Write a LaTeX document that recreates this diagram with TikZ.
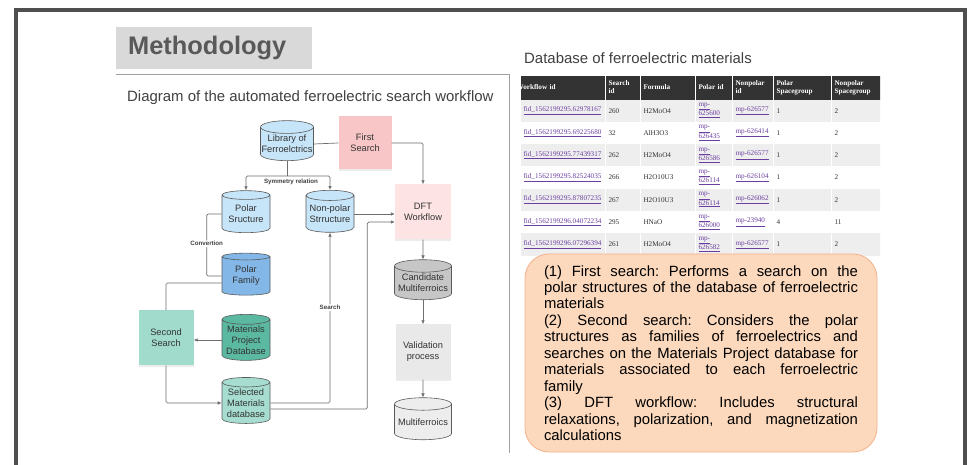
\documentclass[tikz,border=0pt]{standalone}
\usepackage{fontspec}
\setmainfont{Liberation Serif}
\setsansfont{Liberation Sans}
\usepackage{xcolor}
\usetikzlibrary{positioning,arrows.meta,shapes.geometric,calc,matrix,shadows}
\definecolor{framegray}{HTML}{4F4F4F}
\definecolor{panelgray}{HTML}{A0A0A0}
\definecolor{headgray}{HTML}{D9D9D9}
\definecolor{headtxt}{HTML}{595959}
\definecolor{txtdark}{HTML}{404040}
\definecolor{txt}{HTML}{333333}
\definecolor{conn}{HTML}{6E6E6E}
\definecolor{edge}{HTML}{5A5A5A}
\definecolor{lightblue}{HTML}{C7E5F8}
\definecolor{midblue}{HTML}{82B7E8}
\definecolor{pinkbox}{HTML}{F8C6C6}
\definecolor{pinklight}{HTML}{FDE3E3}
\definecolor{tealbox}{HTML}{A0DBCC}
\definecolor{tealdark}{HTML}{5BB9A2}
\definecolor{teallight}{HTML}{A6DDD0}
\definecolor{graymid}{HTML}{C6C6C6}
\definecolor{graylight}{HTML}{E9E9E9}
\definecolor{graylight2}{HTML}{EDEDED}
\definecolor{hdrdark}{HTML}{333333}
\definecolor{rowgray}{HTML}{EEEEEE}
\definecolor{linkc}{HTML}{6B3FA0}
\definecolor{notefill}{HTML}{FCD9BD}
\definecolor{noteedge}{HTML}{F4B18A}
\newcommand{\lnk}[1]{\textcolor{linkc}{\underline{#1}}}
\newcommand{\mpid}[1]{\lnk{mp-}\newline\lnk{#1}}
\newcommand{\two}[2]{#1\newline#2}
\tikzset{
  line/.style={-{Latex[length=4bp,width=3.6bp]}, line width=0.7bp, draw=conn, rounded corners=1.5bp},
  conn/.style={line width=0.7bp, draw=conn, rounded corners=1.5bp},
  every node/.style={anchor=center}
}

\begin{document}
\begin{tikzpicture}[
  x=1bp, y=-1bp,
  font=\sffamily,
  tag/.style={font=\sffamily\bfseries\fontsize{6.2}{7}\selectfont, text=black!75, inner sep=1bp},
  db/.style={cylinder, shape border rotate=90, aspect=0.25, draw=edge, line width=0.6bp, minimum width=48bp, minimum height=42bp, inner sep=0pt, align=center, text=txt, font=\sffamily\fontsize{9.3}{11}\selectfont},
  box/.style={minimum width=55bp, minimum height=55bp, inner sep=1bp, align=center, text=txt, font=\sffamily\fontsize{9.3}{11}\selectfont, drop shadow={shadow xshift=0bp, shadow yshift=-2bp, opacity=0.15}},
  cell/.style={anchor=center, align=left, inner xsep=3bp, inner ysep=0pt, minimum height=22.3bp, text=txt, font=\rmfamily\fontsize{7.2}{8}\selectfont},
  hcell/.style={fill=hdrdark, text=white, minimum height=24bp, font=\rmfamily\bfseries\fontsize{7.2}{8}\selectfont},
  note/.style={rounded corners=24bp, draw=noteedge, fill=notefill, line width=0.8bp, minimum width=352bp, minimum height=198bp, inner sep=0pt, font=\sffamily\fontsize{14.9}{16.5}\selectfont}
]
\useasboundingbox (0,0) rectangle (969,465);
\fill[white] (0,0) rectangle (969,465);
\draw[line width=4bp, draw=framegray] (16,470) -- (16,10.5) -- (965,10.5) -- (965,470);
\draw[line width=0.8bp, draw=panelgray] (116,74) -- (509,74) -- (509,453);

\node[fill=headgray, anchor=north west, minimum width=196bp, minimum height=42bp, inner xsep=12bp, text width=172bp, align=left, text=headtxt, font=\sffamily\bfseries\fontsize{25.5}{28}\selectfont] (method) at (116,27) {Methodology};
\node[anchor=base west, inner sep=0pt, text=txtdark, font=\sffamily\fontsize{15}{18}\selectfont] (diagtitle) at (127,101.5) {Diagram of the automated ferroelectric search workflow};
\node[anchor=base west, inner sep=0pt, text=txtdark, font=\sffamily\fontsize{15}{18}\selectfont] (dbtitle) at (524,63.5) {Database of ferroelectric materials};

\node[db, fill=lightblue, minimum width=53bp, minimum height=40bp] (lib) at (287,144) {Library of\\Ferroelctrics};
\node[box, fill=pinkbox, minimum width=53bp, minimum height=53bp] (first) at (365,143) {First\\Search};
\node[box, fill=pinklight, minimum width=56bp] (dft) at (423,212) {DFT\\Workflow};
\node[db, fill=lightblue] (polar) at (246,214) {Polar\\Sructure};
\node[db, fill=lightblue] (nonpolar) at (330,214) {Non-polar\\Strructure};
\node[db, fill=midblue] (family) at (246,276) {Polar\\Family};
\node[box, fill=tealbox] (second) at (166,338) {Second\\Search};
\node[db, fill=tealdark, minimum height=46bp] (mpdb) at (246,340) {Materials\\Project\\Database};
\node[db, fill=teallight, minimum height=46bp] (sel) at (246,403) {Selected\\Materials\\database};
\node[db, fill=graymid, minimum width=57bp, minimum height=40bp] (cand) at (423,283) {Candidate\\Multiferroics};
\node[box, fill=graylight] (valid) at (423,352) {Validation\\process};
\node[db, fill=graylight2, minimum width=57bp] (multi) at (423,422) {Multiferroics};

\draw[conn] (lib.east) -- (first.west);
\draw[line] (first.east) -| (dft.north);
\draw[conn] (lib.south) -- ++(0,15) coordinate (symm);
\draw[line] (symm) -| (polar.north);
\draw[line] (symm) -| (nonpolar.north);
\node[tag] (symmlbl) at ($(symm)+(4,6)$) {Symmetry relation};
\draw[conn] (polar.west) -- ++(-15,0) |- node[tag, fill=white, pos=0.24] (convlbl) {Convertion} (family.west);
\draw[conn] ([yshift=-7bp]family.west) -| (second.north);
\draw[line] (mpdb.west) -- (mpdb.west -| second.east);
\draw[line] (second.south) |- (sel.west);
\draw[line] (sel.east) -| node[tag, fill=white, pos=0.78] (searchlbl) {Search} (nonpolar.south);
\draw[line] ([yshift=-6bp]sel.east) -- ++(97,0) |- ([yshift=-10bp]dft.west);
\draw[line] (nonpolar.east) -- (nonpolar.east -| dft.west);
\draw[line] (dft) -- (cand);
\draw[line] (cand) -- (valid);
\draw[line] (valid) -- (multi);

\begin{scope}
\clip (521,60) rectangle (880,260);
\matrix (tab) [matrix of nodes, anchor=north west, column sep=1bp, row sep=0bp,
  nodes={cell},
  row 1/.style={nodes={hcell}},
  row 2/.style={nodes={fill=rowgray}},
  row 4/.style={nodes={fill=rowgray}},
  row 6/.style={nodes={fill=rowgray}},
  row 8/.style={nodes={fill=rowgray}},
  column 1/.style={nodes={text width=77bp, inner xsep=4bp}},
  column 2/.style={nodes={text width=28bp}},
  column 3/.style={nodes={text width=48bp}},
  column 4/.style={nodes={text width=30bp}},
  column 5/.style={nodes={text width=34bp}},
  column 6/.style={nodes={text width=51bp}},
  column 7/.style={nodes={text width=43bp}}
] at (516,72) {
  \hspace*{-7bp}Workflow id & \two{Search}{id} & Formula & Polar id & \two{Nonpolar}{id} & \two{Polar}{Spacegroup} & \two{Nonpolar}{Spacegroup} \\
  \lnk{fid\_1562199295.62978167} & 260 & H2MoO4 & \mpid{625600} & \lnk{mp-626577} & 1 & 2 \\
  \lnk{fid\_1562199295.69225680} & 32 & AlH3O3 & \mpid{626435} & \lnk{mp-626414} & 1 & 2 \\
  \lnk{fid\_1562199295.77439317} & 262 & H2MoO4 & \mpid{626586} & \lnk{mp-626577} & 1 & 2 \\
  \lnk{fid\_1562199295.82524035} & 266 & H2O10U3 & \mpid{626114} & \lnk{mp-626104} & 1 & 2 \\
  \lnk{fid\_1562199295.87807235} & 267 & H2O10U3 & \mpid{626114} & \lnk{mp-626062} & 1 & 2 \\
  \lnk{fid\_1562199296.04072234} & 295 & HNaO & \mpid{626000} & \lnk{mp-23940} & 4 & 11 \\
  \lnk{fid\_1562199296.07296394} & 261 & H2MoO4 & \mpid{626582} & \lnk{mp-626577} & 1 & 2 \\
};
\end{scope}

\node[note] (notes) at (701,353) {\parbox{314bp}{\frenchspacing\tolerance=10000\hbadness=10000
(1) First search: Performs a search on the\linebreak
polar structures of the database of ferroelectric\linebreak
materials\par
(2) Second search: Considers the polar\linebreak
structures as families of ferroelectrics and\linebreak
searches on the Materials Project database for\linebreak
materials associated to each ferroelectric\linebreak
family\par
(3) DFT workflow: Includes structural\linebreak
relaxations, polarization, and magnetization\linebreak
calculations}};
\end{tikzpicture}
\end{document}
